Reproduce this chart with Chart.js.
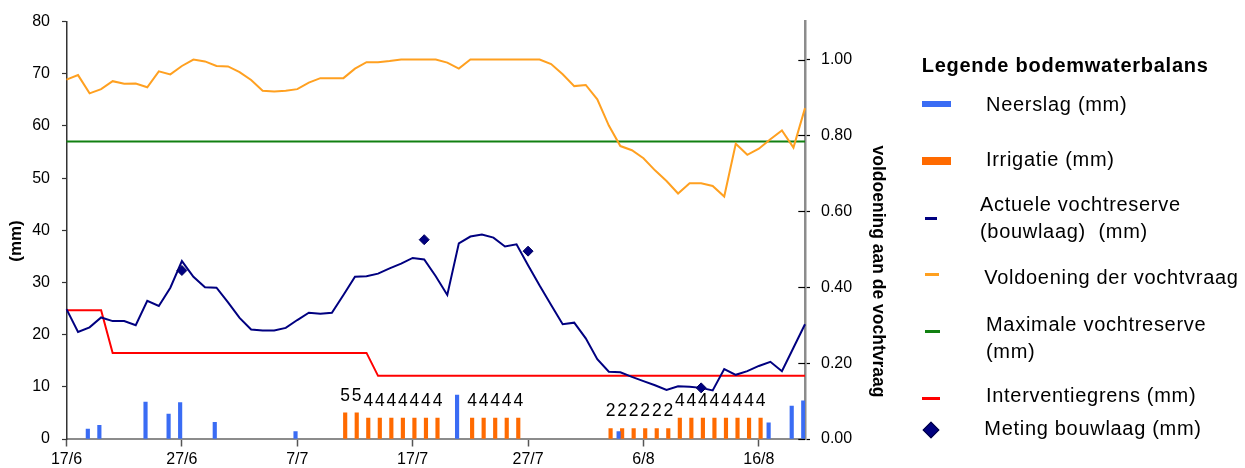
<!DOCTYPE html>
<html lang="nl">
<head>
<meta charset="utf-8">
<title>Bodemwaterbalans</title>
<script src="https://cdn.jsdelivr.net/npm/chart.js@4.4.1/dist/chart.umd.min.js"></script>
<style>
  html, body { margin: 0; padding: 0; background: #fff; }
  #wrap { position: relative; width: 1245px; height: 468px; overflow: hidden; }
  #grafiek { position: absolute; left: 0; top: 0; }
  .leg {
    position: absolute;
    font-family: "Liberation Sans", Arial, sans-serif;
    font-size: 20px;
    line-height: 26.4px;
    letter-spacing: 0.7px;
    color: #000;
    white-space: pre;
  }
  .leg.titel { font-weight: bold; letter-spacing: 0.75px; }
  .mark { position: absolute; }
  .ruit {
    position: absolute;
    width: 10px; height: 10px;
    background: #000080;
    border: 0.6px solid #000040;
    transform: rotate(45deg);
  }
</style>
</head>
<body>
<div id="wrap">
  <canvas id="grafiek" width="1245" height="468"></canvas>

  <div class="leg titel" style="left:921.7px; top:52px;">Legende bodemwaterbalans</div>

  <div class="mark" style="left:921.7px; top:100.7px; width:29.3px; height:6px; background:#3a6cf4;"></div>
  <div class="leg" style="left:986px; top:90.7px;">Neerslag (mm)</div>

  <div class="mark" style="left:921.7px; top:157.3px; width:29.3px; height:7.5px; background:#ff6a00;"></div>
  <div class="leg" style="left:986px; top:146px;">Irrigatie (mm)</div>

  <div class="mark" style="left:925px; top:216.8px; width:11.7px; height:3px; background:#000080;"></div>
  <div class="leg" style="left:980px; top:191.3px;">Actuele vochtreserve<br>(bouwlaag)  (mm)</div>

  <div class="mark" style="left:925px; top:272.8px; width:14px; height:3px; background:#ffa020;"></div>
  <div class="leg" style="left:984.3px; top:263.7px;">Voldoening der vochtvraag</div>

  <div class="mark" style="left:925px; top:330.2px; width:15px; height:3px; background:#118011;"></div>
  <div class="leg" style="left:986px; top:311.3px;">Maximale vochtreserve<br>(mm)</div>

  <div class="mark" style="left:921.7px; top:396.8px; width:18.3px; height:3px; background:#ff0000;"></div>
  <div class="leg" style="left:986px; top:382px;">Interventiegrens (mm)</div>

  <div class="ruit" style="left:925.4px; top:424.4px;"></div>
  <div class="leg" style="left:984.3px; top:414.7px;">Meting bouwlaag (mm)</div>
</div>

<script>
// Dagen van 17 juni t/m 20 augustus
const dagen = [
  '17/6','18/6','19/6','20/6','21/6','22/6','23/6','24/6','25/6','26/6',
  '27/6','28/6','29/6','30/6','1/7','2/7','3/7','4/7','5/7','6/7',
  '7/7','8/7','9/7','10/7','11/7','12/7','13/7','14/7','15/7','16/7',
  '17/7','18/7','19/7','20/7','21/7','22/7','23/7','24/7','25/7','26/7',
  '27/7','28/7','29/7','30/7','31/7','1/8','2/8','3/8','4/8','5/8',
  '6/8','7/8','8/8','9/8','10/8','11/8','12/8','13/8','14/8','15/8',
  '16/8','17/8','18/8','19/8','20/8'
];

// Datums die als aslabel verschijnen
const asLabels = ['17/6', '27/6', '7/7', '17/7', '27/7', '6/8', '16/8'];
const mmTicks = [0, 10, 20, 30, 40, 50, 60, 70, 80];
const voldoeningTicks = [0, 0.2, 0.4, 0.6, 0.8, 1.0];

// Neerslag per dag (mm)
const neerslag = [
  null, null, 1.9, 2.6, null, null, null, 7.1, null, 4.8,
  7.0, null, null, 3.2, null, null, null, null, null, null,
  1.4, null, null, null, null, null, null, null, null, null,
  null, null, null, null, 8.4, null, null, null, null, null,
  null, null, null, null, null, null, null, null, 1.4, null,
  null, null, null, null, null, null, null, null, null, null,
  null, 3.1, null, 6.3, 7.3
];

// Irrigatiegiften per dag (mm)
const irrigatie = [
  null, null, null, null, null, null, null, null, null, null,
  null, null, null, null, null, null, null, null, null, null,
  null, null, null, null, 5, 5, 4, 4, 4, 4,
  4, 4, 4, null, null, 4, 4, 4, 4, 4,
  null, null, null, null, null, null, null, 2, 2, 2,
  2, 2, 2, 4, 4, 4, 4, 4, 4, 4,
  4, null, null, null, null
];

// Actuele vochtreserve in de bouwlaag (mm)
const actueleVochtreserve = [
  24.9, 20.5, 21.4, 23.3, 22.6, 22.6, 21.8, 26.5, 25.5, 29.0,
  34.1, 31.1, 29.1, 29.0, 26.2, 23.2, 21.0, 20.8, 20.8, 21.3,
  22.8, 24.2, 24.0, 24.2, 27.6, 31.1, 31.2, 31.7, 32.7, 33.6,
  34.7, 34.4, 31.2, 27.6, 37.5, 38.8, 39.2, 38.6, 36.9, 37.3,
  33.3, 29.4, 25.7, 22.0, 22.3, 19.3, 15.3, 12.9, 12.8, 11.9,
  11.1, 10.3, 9.4, 10.1, 10.0, 9.8, 9.3, 13.4, 12.3, 13.0,
  14.0, 14.8, 13.0, 17.5, 22.0
];

// Voldoening der vochtvraag (fractie, rechteras)
const voldoening = [
  0.947, 0.959, 0.911, 0.922, 0.943, 0.936, 0.937, 0.927, 0.969, 0.961,
  0.983, 1.000, 0.995, 0.983, 0.982, 0.967, 0.946, 0.918, 0.916, 0.918,
  0.922, 0.939, 0.951, 0.951, 0.951, 0.976, 0.993, 0.993, 0.996, 1.000,
  1.000, 1.000, 1.000, 0.992, 0.976, 1.000, 1.000, 1.000, 1.000, 1.000,
  1.000, 1.000, 0.988, 0.961, 0.930, 0.933, 0.895, 0.826, 0.772, 0.761,
  0.740, 0.708, 0.680, 0.647, 0.674, 0.674, 0.667, 0.639, 0.778, 0.749,
  0.765, 0.790, 0.813, 0.768, 0.872
];

// Maximale vochtreserve (mm)
const maximaleVochtreserve = [
  57, 57, 57, 57, 57, 57, 57, 57, 57, 57,
  57, 57, 57, 57, 57, 57, 57, 57, 57, 57,
  57, 57, 57, 57, 57, 57, 57, 57, 57, 57,
  57, 57, 57, 57, 57, 57, 57, 57, 57, 57,
  57, 57, 57, 57, 57, 57, 57, 57, 57, 57,
  57, 57, 57, 57, 57, 57, 57, 57, 57, 57,
  57, 57, 57, 57, 57
];

// Interventiegrens (mm)
const interventiegrens = [
  24.7, 24.7, 24.7, 24.7, 16.5, 16.5, 16.5, 16.5, 16.5, 16.5,
  16.5, 16.5, 16.5, 16.5, 16.5, 16.5, 16.5, 16.5, 16.5, 16.5,
  16.5, 16.5, 16.5, 16.5, 16.5, 16.5, 16.5, 12.1, 12.1, 12.1,
  12.1, 12.1, 12.1, 12.1, 12.1, 12.1, 12.1, 12.1, 12.1, 12.1,
  12.1, 12.1, 12.1, 12.1, 12.1, 12.1, 12.1, 12.1, 12.1, 12.1,
  12.1, 12.1, 12.1, 12.1, 12.1, 12.1, 12.1, 12.1, 12.1, 12.1,
  12.1, 12.1, 12.1, 12.1, 12.1
];

// Gemeten vochtgehalte bouwlaag (mm)
const metingBouwlaag = [
  null, null, null, null, null, null, null, null, null, null,
  32.3, null, null, null, null, null, null, null, null, null,
  null, null, null, null, null, null, null, null, null, null,
  null, 38.2, null, null, null, null, null, null, null, null,
  36.0, null, null, null, null, null, null, null, null, null,
  null, null, null, null, null, 9.8, null, null, null, null,
  null, null, null, null, null
];

const FONT = "'Liberation Sans', Arial, sans-serif";
Chart.defaults.font.family = FONT;
Chart.defaults.font.size = 16;
Chart.defaults.color = '#000';

// Waarden boven de irrigatiestaven, binnenste helft van de rechter asstreepjes en de astitels
const extraTekening = {
  id: 'extraTekening',
  afterDatasetsDraw(chart) {
    const ctx = chart.ctx;
    const idx = chart.data.datasets.findIndex(d => d.label === 'Irrigatie (mm)');
    const meta = chart.getDatasetMeta(idx);
    ctx.save();
    ctx.font = '17.5px ' + FONT;
    ctx.fillStyle = '#000';
    ctx.textAlign = 'center';
    ctx.textBaseline = 'alphabetic';
    meta.data.forEach((bar, i) => {
      const v = irrigatie[i];
      if (v === null || v === undefined) return;
      ctx.fillText(String(v), bar.x, bar.y - 12.4);
    });
    ctx.restore();
  },
  afterDraw(chart) {
    const ctx = chart.ctx;
    const s = chart.scales.y1;
    ctx.save();
    ctx.strokeStyle = '#000';
    ctx.lineWidth = 1.2;
    s.ticks.forEach(t => {
      const y = Math.round(s.getPixelForValue(t.value)) + 0.5;
      ctx.beginPath();
      ctx.moveTo(s.left - 6.7, y);
      ctx.lineTo(s.left, y);
      ctx.stroke();
    });
    ctx.restore();

    ctx.save();
    ctx.fillStyle = '#000';
    ctx.textAlign = 'center';
    ctx.textBaseline = 'middle';
    ctx.font = 'bold 17px ' + FONT;
    ctx.translate(16.7, 241);
    ctx.rotate(-Math.PI / 2);
    ctx.fillText('(mm)', 0, 0);
    ctx.restore();

    ctx.save();
    ctx.fillStyle = '#000';
    ctx.textAlign = 'center';
    ctx.textBaseline = 'middle';
    ctx.font = 'bold 17.5px ' + FONT;
    ctx.translate(877.8, 271.5);
    ctx.rotate(Math.PI / 2);
    ctx.fillText('voldoening aan de vochtvraag', 0, 0);
    ctx.restore();
  }
};

new Chart(document.getElementById('grafiek'), {
  type: 'bar',
  data: {
    labels: dagen,
    datasets: [
      {
        type: 'line', label: 'Meting bouwlaag (mm)', data: metingBouwlaag,
        showLine: false, pointStyle: 'rectRot', pointRadius: 5,
        pointBackgroundColor: '#000080', pointBorderColor: '#000060', pointBorderWidth: 1,
        yAxisID: 'y', order: 0
      },
      {
        type: 'line', label: 'Actuele vochtreserve (bouwlaag) (mm)', data: actueleVochtreserve,
        borderColor: '#000080', borderWidth: 2, pointRadius: 0, tension: 0,
        yAxisID: 'y', order: 1
      },
      {
        type: 'line', label: 'Interventiegrens (mm)', data: interventiegrens,
        borderColor: '#ff0000', borderWidth: 2, pointRadius: 0, tension: 0,
        yAxisID: 'y', order: 2
      },
      {
        type: 'line', label: 'Voldoening der vochtvraag', data: voldoening,
        borderColor: '#ffa020', borderWidth: 2, pointRadius: 0, tension: 0,
        yAxisID: 'y1', order: 3
      },
      {
        type: 'line', label: 'Maximale vochtreserve (mm)', data: maximaleVochtreserve,
        borderColor: '#118011', borderWidth: 2, pointRadius: 0, tension: 0,
        yAxisID: 'y', order: 4
      },
      {
        type: 'bar', label: 'Neerslag (mm)', data: neerslag,
        backgroundColor: '#3a6cf4', barThickness: 3.5, borderWidth: 0,
        yAxisID: 'y', order: 5
      },
      {
        type: 'bar', label: 'Irrigatie (mm)', data: irrigatie,
        backgroundColor: '#ff6a00', barThickness: 3.5, borderWidth: 0,
        yAxisID: 'y', order: 6
      }
    ]
  },
  options: {
    responsive: false,
    devicePixelRatio: 1,
    animation: false,
    layout: { padding: { top: 21, left: 0, right: 0, bottom: 0 } },
    plugins: {
      legend: { display: false },
      tooltip: { enabled: false }
    },
    scales: {
      x: {
        type: 'category',
        offset: false,
        grid: { display: true, drawOnChartArea: false, offset: false, tickLength: 7.5, tickColor: '#555', tickWidth: 1.5 },
        border: { display: true, color: '#8c8c8c', width: 2 },
        ticks: {
          autoSkip: false, maxRotation: 0, minRotation: 0, padding: 3,
          callback: (v, i) => asLabels.includes(dagen[i]) ? dagen[i] : null
        },
        afterFit: s => { s.height = 29; }
      },
      y: {
        position: 'left', min: 0, max: 80,
        afterBuildTicks: s => { s.ticks = mmTicks.map(v => ({ value: v })); },
        grid: { display: true, drawOnChartArea: false, tickLength: 4.5, tickColor: '#333', tickWidth: 1.2 },
        border: { display: true, color: '#333', width: 1.5 },
        ticks: { padding: 12 },
        afterFit: s => { s.width = 66.5; }
      },
      y1: {
        position: 'right', min: 0, max: 1.1,
        afterBuildTicks: s => { s.ticks = voldoeningTicks.map(v => ({ value: v })); },
        grid: { display: true, drawOnChartArea: false, tickLength: 5, tickColor: '#000', tickWidth: 1.2 },
        border: { display: true, color: '#8c8c8c', width: 2.5 },
        ticks: { padding: 11, callback: v => v.toFixed(2) },
        afterFit: s => { s.width = 440; }
      }
    }
  },
  plugins: [extraTekening]
});
</script>
</body>
</html>
